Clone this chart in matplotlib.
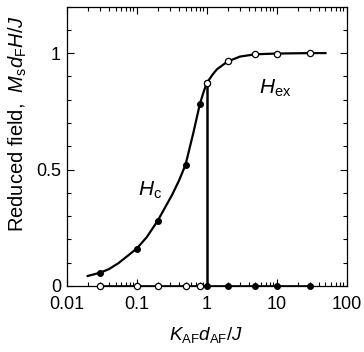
import matplotlib
matplotlib.use('Agg')
import matplotlib.pyplot as plt
from matplotlib.ticker import LogLocator, MultipleLocator, FixedLocator, FixedFormatter

plt.rcParams['font.family'] = ['Liberation Sans', 'DejaVu Sans']
plt.rcParams['mathtext.fontset'] = 'custom'
plt.rcParams['mathtext.rm'] = 'Liberation Sans'
plt.rcParams['mathtext.it'] = 'Liberation Sans:italic'

# measured points (filled = Hc, open = Hex)
hc_x = [0.03, 0.1, 0.2, 0.5, 0.8, 1.0]
hc_y = [0.057, 0.16, 0.28, 0.52, 0.78, 0.87]
hex_x = [1.0, 2.0, 5.0, 10.0, 30.0]
hex_y = [0.87, 0.964, 0.995, 0.998, 1.0]

# points sitting on the zero line
zero_open_x = [0.03, 0.1, 0.2, 0.5, 0.8]
zero_filled_x = [1.0, 2.0, 5.0, 10.0, 30.0]

# guide curve
curve_x = [0.02, 0.03, 0.04, 0.055, 0.1, 0.14, 0.2, 0.32, 0.4, 0.5, 0.65, 0.8, 0.9, 1.0,
           1.2, 1.4, 2.0, 3.0, 5.0, 10.0, 30.0, 50.0]
curve_y = [0.043, 0.057, 0.072, 0.098, 0.16, 0.21, 0.28, 0.39, 0.45, 0.52, 0.66, 0.78, 0.83, 0.87,
           0.905, 0.93, 0.964, 0.985, 0.995, 0.998, 1.0, 1.0]

fig = plt.figure(figsize=(3.64, 3.52), dpi=100)
ax = fig.add_axes([0.183, 0.1875, 0.769, 0.794])

ax.plot(curve_x, curve_y, 'k-', lw=1.6, zorder=2)
ax.plot([1.0, 1.0], [0, hc_y[-1]], 'k-', lw=1.8, zorder=2)
ax.plot([0.03, 30], [0, 0], 'k-', lw=1.2, zorder=2, clip_on=False)

ax.plot(hc_x, hc_y, 'o', color='k', ms=4, zorder=3)
ax.plot(hex_x, hex_y, 'o', mfc='white', mec='k', mew=0.9, ms=4.5, zorder=3)
ax.plot(zero_open_x, [0]*len(zero_open_x), 'o', mfc='white', mec='k', mew=0.9, ms=4.5,
        zorder=3, clip_on=False)
ax.plot(zero_filled_x, [0]*len(zero_filled_x), 'o', color='k', ms=4, zorder=3, clip_on=False)

ax.set_xscale('log')
ax.set_xlim(0.01, 100)
ax.set_ylim(0, 1.2)

ax.xaxis.set_major_locator(FixedLocator([0.01, 0.1, 1, 10, 100]))
ax.xaxis.set_major_formatter(FixedFormatter(['0.01', '0.1', '1', '10', '100']))
ax.xaxis.set_minor_locator(LogLocator(base=10, subs=range(2, 10), numticks=20))
ax.yaxis.set_major_locator(FixedLocator([0, 0.5, 1.0]))
ax.yaxis.set_major_formatter(FixedFormatter(['0', '0.5', '1']))
ax.yaxis.set_minor_locator(MultipleLocator(0.1))

ax.tick_params(which='both', direction='in', top=True, right=True, labelsize=13, width=0.8)
ax.tick_params(which='major', length=5, pad=4)
ax.tick_params(axis='x', which='major', pad=7)
ax.tick_params(which='minor', length=3)
for s in ax.spines.values():
    s.set_linewidth(0.9)

ax.text(0.155, 0.41, r'$H_{\rm c}$', fontsize=15, ha='center', va='center')
ax.text(9.5, 0.85, r'$H_{\rm ex}$', fontsize=15, ha='center', va='center')

ax.set_xlabel(r'$K_{\rm AF}d_{\rm AF}/J$', fontsize=13.5, labelpad=9)
ax.set_ylabel(r'Reduced field,  $M_{\rm s}d_{\rm F}H/J$', fontsize=14.5)
ax.yaxis.set_label_coords(-0.135, 0.58)

fig.savefig('out.png', dpi=100)
